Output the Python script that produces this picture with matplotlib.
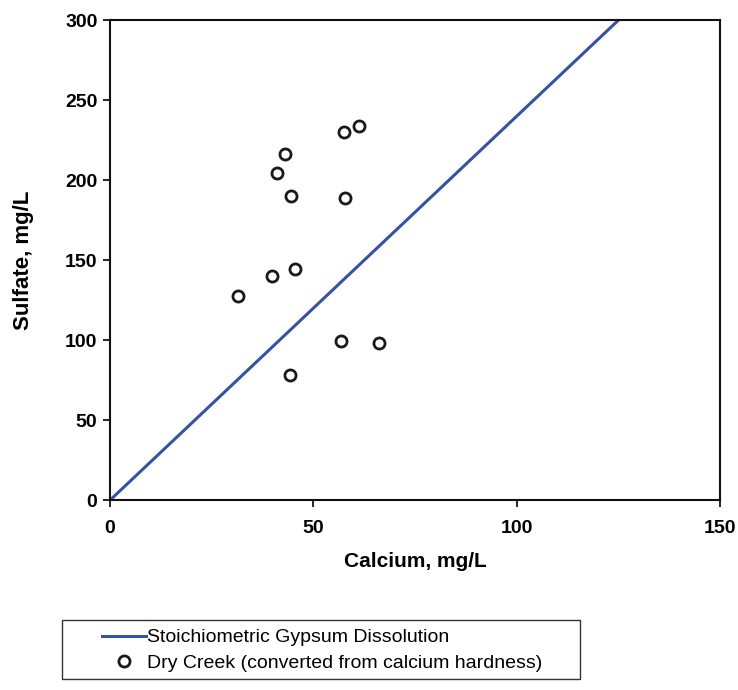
import matplotlib
matplotlib.use("Agg")
import matplotlib.pyplot as plt
from matplotlib.patches import Rectangle

plt.rcParams['font.family'] = ['Liberation Sans', 'DejaVu Sans']

# Dry Creek samples (converted from calcium hardness)
calcium = [31.5, 39.8, 45.5, 41.0, 43.1, 44.6, 57.6, 61.3, 57.8, 56.8, 66.0, 44.2]
sulfate = [127.5, 140, 144.5, 204.5, 216.5, 190, 230, 234, 188.5, 99.5, 98, 78]

# stoichiometric gypsum dissolution line (SO4 = 2.4 * Ca)
line_ca = [0, 125]
line_so4 = [0, 300]

fig = plt.figure(figsize=(7.38, 6.9), dpi=100)
ax = fig.add_axes([0.149, 0.275, 0.827, 0.696])

ax.plot(line_ca, line_so4, color='#3553a0', lw=2.2,
        label='Stoichiometric Gypsum Dissolution')
ax.plot(calcium, sulfate, linestyle='none', marker='o', ms=8,
        mfc='white', mec='#1a1a1a', mew=2.0,
        label='Dry Creek (converted from calcium hardness)')

ax.set_xlim(0, 150)
ax.set_ylim(0, 300)
ax.set_xticks([0, 50, 100, 150])
ax.set_yticks([0, 50, 100, 150, 200, 250, 300])
ax.tick_params(direction='out', length=5, width=1.2, labelsize=14)
ax.tick_params(axis='x', pad=9)
ax.tick_params(axis='y', pad=4)
for lab in ax.get_xticklabels() + ax.get_yticklabels():
    lab.set_fontweight('bold')
for s in ax.spines.values():
    s.set_linewidth(1.5)
    s.set_color('#111111')

ax.set_xlabel('Calcium, mg/L', fontsize=15, fontweight='bold', labelpad=11)
ax.set_ylabel('Sulfate, mg/L', fontsize=16, fontweight='bold', labelpad=22)

# legend box below the plot
fig.patches.append(Rectangle((62 / 738, 11 / 690), 518 / 738, 59 / 690,
                             transform=fig.transFigure, fill=False,
                             edgecolor='#333333', linewidth=1.0))
leg = fig.legend(loc='upper left', bbox_to_anchor=(92 / 738, 1 - 619 / 690),
                 fontsize=14, frameon=False, borderpad=0.0,
                 handlelength=2.3, handletextpad=0.05, labelspacing=0.4)

fig.savefig('out.png', dpi=100)
